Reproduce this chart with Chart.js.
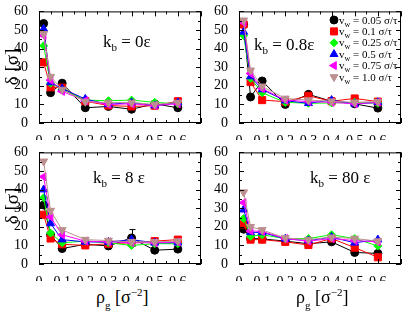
<!DOCTYPE html>
<html>
<head>
<meta charset="utf-8">
<script src="https://cdn.jsdelivr.net/npm/chart.js@4.4.1/dist/chart.umd.min.js"></script>
<style>
  body { margin: 0; background: #fff; }
  #wrap { position: relative; width: 407px; height: 313px; overflow: hidden; font-family: "Liberation Serif", "Times New Roman", serif; color: #000; }
  canvas { position: absolute; }
  .lbl { position: absolute; white-space: nowrap; line-height: 1; }
  .kb { font-size: 17px; }
  .kb sub { font-size: 11px; vertical-align: -4px; }
  .ytitle { font-size: 19px; transform: translate(-50%, -50%) rotate(-90deg); }
  .xtitle { font-size: 18px; }
  .xtitle sub { font-size: 11px; vertical-align: -6px; }
  .xtitle sup { font-size: 11px; vertical-align: 7px; }
  .leg { font-size: 11px; line-height: 12px; }
  .leg sub { font-size: 8px; vertical-align: -3px; }
</style>
</head>
<body>
<div id="wrap">
  <canvas id="c1" width="207" height="140" style="left:0;top:0"></canvas>
  <canvas id="c2" width="207" height="140" style="left:200px;top:0"></canvas>
  <canvas id="c3" width="207" height="140" style="left:0;top:141px"></canvas>
  <canvas id="c4" width="207" height="140" style="left:200px;top:141px"></canvas>

  <div class="lbl kb" style="left:103px;top:33px">k<sub>b</sub> = 0ε</div>
  <div class="lbl kb" style="left:254px;top:36px">k<sub>b</sub> = 0.8ε</div>
  <div class="lbl kb" style="left:93px;top:169px">k<sub>b</sub> = 8 ε</div>
  <div class="lbl kb" style="left:310px;top:169px">k<sub>b</sub> = 80 ε</div>

  <div class="lbl ytitle" style="left:11px;top:67px">δ [σ]</div>
  <div class="lbl ytitle" style="left:11px;top:206px">δ [σ]</div>
  <div class="lbl xtitle" style="left:96px;top:287px">ρ<sub>g</sub> [σ<sup>−2</sup>]</div>
  <div class="lbl xtitle" style="left:296px;top:287px">ρ<sub>g</sub> [σ<sup>−2</sup>]</div>

  <div id="legend"></div>
</div>
<script>
// densities of grafted chains (x axis)
const rhoG = [0.02, 0.05, 0.1, 0.2, 0.3, 0.4, 0.5, 0.6];
const vwLabels = ["0.05", "0.1", "0.25", "0.5", "0.75", "1.0"];
const xTickVals = [0, 0.1, 0.2, 0.3, 0.4, 0.5, 0.6];
const yTickVals = [0, 10, 20, 30, 40, 50, 60];

// k_b = 0 eps
const kb0_v005 = [53.5, 16.3, 21.4, 8.2, 8.9, 7.4, 10.3, 8.2];
const kb0_v01  = [32.6, 19.2, 19.0, 11.7, 9.4, 8.9, 9.3, 11.7];
const kb0_v025 = [41.5, 21.4, 18.0, 12.3, 12.0, 12.3, 11.1, 10.3];
const kb0_v05  = [50.6, 21.8, 18.5, 12.9, 10.0, 11.0, 9.4, 11.0];
const kb0_v075 = [47.0, 23.0, 17.0, 12.0, 10.0, 10.3, 9.4, 10.3];
const kb0_v10  = [48.0, 24.9, 18.0, 11.5, 11.0, 11.0, 10.0, 11.0];

// k_b = 0.8 eps
const kb08_v005 = [53.0, 14.0, 22.6, 10.0, 15.4, 11.7, 10.3, 8.0];
const kb08_v01  = [53.0, 22.0, 12.3, 11.5, 14.6, 11.7, 13.2, 11.5];
const kb08_v025 = [47.0, 24.0, 16.3, 11.1, 10.6, 10.8, 11.1, 10.6];
const kb08_v05  = [49.0, 25.0, 18.0, 12.0, 10.6, 12.3, 10.3, 11.1];
const kb08_v075 = [54.0, 26.6, 18.5, 12.3, 11.5, 11.1, 10.3, 11.1];
const kb08_v10  = [55.2, 28.3, 19.7, 13.2, 12.3, 11.7, 11.1, 11.5];

// k_b = 8 eps
const kb8_v005 = [31.7, 15.7, 8.3, 10.6, 9.7, 14.0, 7.4, 8.0];
const kb8_v01  = [26.5, 13.7, 10.6, 10.0, 10.9, 11.4, 12.3, 13.1];
const kb8_v025 = [35.6, 16.6, 11.4, 12.3, 11.4, 10.0, 10.9, 10.9];
const kb8_v05  = [40.0, 21.8, 13.1, 11.9, 11.8, 13.1, 11.4, 11.4];
const kb8_v075 = [46.9, 25.3, 15.7, 12.3, 11.9, 11.4, 11.4, 11.9];
const kb8_v10  = [55.2, 28.7, 18.3, 13.1, 12.6, 11.9, 11.9, 12.3];
const kb8_v005_err = [0, 0, 0, 0, 0, 4.5, 0, 0];

// k_b = 80 eps
const kb80_v005 = [18.7, 13.7, 13.5, 12.3, 10.9, 11.9, 6.2, 5.7];
const kb80_v01  = [21.3, 13.1, 13.1, 11.9, 10.2, 13.7, 8.8, 3.6];
const kb80_v025 = [24.4, 14.9, 15.7, 13.7, 13.7, 15.7, 13.7, 9.7];
const kb80_v05  = [29.2, 17.0, 17.0, 13.5, 12.6, 14.4, 11.4, 13.1];
const kb80_v075 = [33.0, 17.8, 17.5, 13.7, 12.3, 13.7, 12.6, 11.9];
const kb80_v10  = [38.6, 20.0, 18.3, 14.0, 13.1, 14.4, 13.7, 12.3];

const seriesStyle = [
  { color: "#000000", pointStyle: "circle",   radius: 4,   rotation: 0 },
  { color: "#ff0000", pointStyle: "rect",     radius: 5,   rotation: 0 },
  { color: "#00ff00", pointStyle: "rectRot",  radius: 4,   rotation: 0 },
  { color: "#0000ff", pointStyle: "triangle", radius: 4.6, rotation: 0 },
  { color: "#ff00ff", pointStyle: "triangle", radius: 4.6, rotation: -90 },
  { color: "#bc8f8f", pointStyle: "triangle", radius: 4.6, rotation: 180 }
];

const FONT = "'Liberation Serif', 'Times New Roman', serif";

function makeDatasets(series, errs) {
  return series.map((vals, i) => {
    const s = seriesStyle[i];
    return {
      label: "v_w = " + vwLabels[i] + " σ/τ",
      data: rhoG.map((x, j) => ({ x: x, y: vals[j] })),
      errors: errs && errs[i] ? errs[i] : null,
      showLine: true,
      borderColor: s.color,
      backgroundColor: s.color,
      borderWidth: 1,
      pointStyle: s.pointStyle,
      pointRadius: s.radius,
      pointRotation: s.rotation,
      pointBorderColor: s.color,
      pointBackgroundColor: s.color,
      pointBorderWidth: 1,
      order: series.length - i // later series drawn on top
    };
  });
}

// inward ticks on all four sides + box
const framePlugin = {
  id: "frame",
  afterDatasetsDraw(chart) {
    const { ctx, chartArea: a, scales } = chart;
    const x = scales.x, y = scales.y;
    ctx.save();
    ctx.strokeStyle = "#000";
    ctx.lineWidth = 1;
    ctx.strokeRect(a.left + 0.5, a.top + 0.5, a.right - a.left - 1, a.bottom - a.top - 1);
    ctx.beginPath();
    for (let i = 0; i <= 14; i++) {
      const px = Math.round(x.getPixelForValue(i * 0.05)) + 0.5;
      const len = i % 2 ? 3 : 5;
      ctx.moveTo(px, a.bottom); ctx.lineTo(px, a.bottom - len);
      ctx.moveTo(px, a.top); ctx.lineTo(px, a.top + len);
    }
    for (let i = 0; i <= 12; i++) {
      const py = Math.round(y.getPixelForValue(i * 5)) + 0.5;
      const len = i % 2 ? 3 : 5;
      ctx.moveTo(a.left, py); ctx.lineTo(a.left + len, py);
      ctx.moveTo(a.right, py); ctx.lineTo(a.right - len, py);
    }
    ctx.stroke();
    ctx.restore();
  }
};

// vertical error bars where a dataset carries them
const errorPlugin = {
  id: "errbars",
  beforeDatasetsDraw(chart) {
    const { ctx, scales } = chart;
    ctx.save();
    chart.data.datasets.forEach(ds => {
      if (!ds.errors) return;
      ctx.strokeStyle = ds.borderColor;
      ctx.lineWidth = 1;
      ds.data.forEach((p, j) => {
        const e = ds.errors[j];
        if (!e) return;
        const px = Math.round(scales.x.getPixelForValue(p.x)) + 0.5;
        const top = scales.y.getPixelForValue(p.y + e);
        const bot = scales.y.getPixelForValue(p.y - e);
        ctx.beginPath();
        ctx.moveTo(px, top); ctx.lineTo(px, bot);
        ctx.moveTo(px - 3, top); ctx.lineTo(px + 3, top);
        ctx.moveTo(px - 3, bot); ctx.lineTo(px + 3, bot);
        ctx.stroke();
      });
    });
    ctx.restore();
  }
};

// legend symbols for the 0.8 eps panel (text is html)
const legendPlugin = {
  id: "legendSymbols",
  afterDatasetsDraw(chart, args, opts) {
    if (!opts || !opts.show) return;
    const ctx = chart.ctx;
    seriesStyle.forEach((s, i) => {
      ctx.save();
      ctx.fillStyle = s.color;
      ctx.strokeStyle = s.color;
      ctx.lineWidth = 1;
      Chart.helpers.drawPoint(ctx, { pointStyle: s.pointStyle, radius: s.radius, rotation: s.rotation, borderWidth: 1 },
        opts.x, opts.y + i * opts.step);
      ctx.restore();
    });
  }
};

function makeChart(id, series, errs, legendOpts) {
  return new Chart(document.getElementById(id), {
    type: "scatter",
    data: { datasets: makeDatasets(series, errs) },
    options: {
      responsive: false,
      animation: false,
      devicePixelRatio: 1,
      layout: { padding: { top: 7, right: 3, left: 0, bottom: 0 } },
      plugins: {
        legend: { display: false },
        tooltip: { enabled: false },
        legendSymbols: legendOpts || { show: false }
      },
      scales: {
        x: {
          type: "linear", min: 0, max: 0.7,
          afterFit: s => { s.height = 17; },
          afterBuildTicks: s => { s.ticks = xTickVals.map(v => ({ value: v })); },
          grid: { display: false },
          border: { display: false },
          ticks: {
            padding: 2, color: "#000", font: { family: FONT, size: 14 }, maxRotation: 0, autoSkip: false,
            callback: v => (v === 0 ? "0" : Number(v).toFixed(1))
          }
        },
        y: {
          type: "linear", min: 0, max: 60,
          afterFit: s => { s.width = 39; },
          afterBuildTicks: s => { s.ticks = yTickVals.map(v => ({ value: v })); },
          grid: { display: false },
          border: { display: false },
          ticks: { padding: 3, color: "#000", font: { family: FONT, size: 14 }, autoSkip: false }
        }
      }
    },
    plugins: [errorPlugin, framePlugin, legendPlugin]
  });
}

makeChart("c1", [kb0_v005, kb0_v01, kb0_v025, kb0_v05, kb0_v075, kb0_v10]);
makeChart("c2", [kb08_v005, kb08_v01, kb08_v025, kb08_v05, kb08_v075, kb08_v10], null,
  { show: true, x: 134, y: 20, step: 11.4 });
makeChart("c3", [kb8_v005, kb8_v01, kb8_v025, kb8_v05, kb8_v075, kb8_v10], [kb8_v005_err]);
makeChart("c4", [kb80_v005, kb80_v01, kb80_v025, kb80_v05, kb80_v075, kb80_v10]);

// legend text
const legendEl = document.getElementById("legend");
vwLabels.forEach((v, i) => {
  const d = document.createElement("div");
  d.className = "lbl leg";
  d.style.left = "339px";
  d.style.top = (20 + i * 11.4 - 6.5) + "px";
  d.innerHTML = "v<sub>w</sub> = " + v + " σ/τ";
  legendEl.appendChild(d);
});
</script>
</body>
</html>
